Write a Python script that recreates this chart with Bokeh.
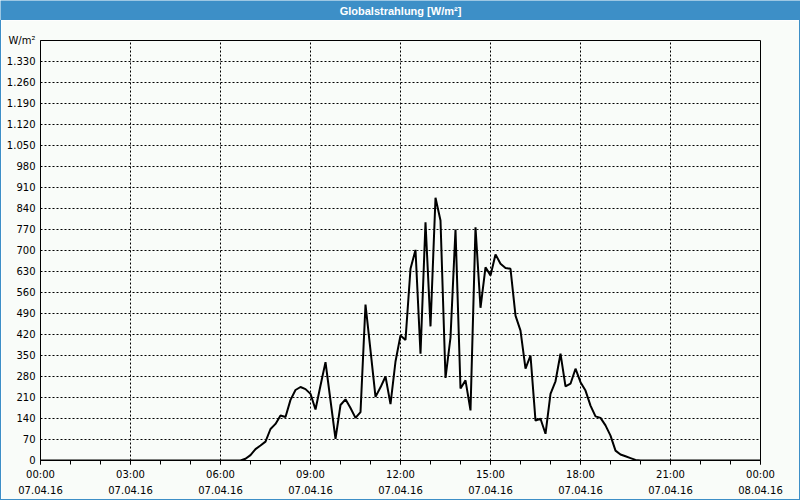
from bokeh.plotting import figure
from bokeh.models import FixedTicker, Range1d, Spacer
from bokeh.layouts import column, row
from bokeh.core.properties import value
from bokeh.embed import file_html
from bokeh.resources import INLINE

# 10-minute values, 07.04.16 00:00 .. 08.04.16 00:00 (145 samples)
hours = [i / 6 for i in range(145)]
zeros_night = [0] * 40  # 00:00 .. 06:30
day_values = [
    0, 6, 18, 38, 50, 63, 105, 122, 150, 145, 202, 235, 245, 238, 222, 170,
    250, 328, 200, 72, 185, 204, 175, 142, 161, 520, 367, 212, 244, 280, 188,
    330, 417, 402, 639, 702, 356, 794, 447, 876, 800, 275, 410, 770, 240, 267,
    167, 777, 509, 644, 617, 687, 656, 642, 639, 483, 433, 306, 350, 133, 139,
    89, 222, 264, 356, 247, 256, 306, 261, 233, 183, 147, 142, 117, 83, 33,
    20, 14, 8, 2,
]
zeros_evening = [0] * (145 - 40 - len(day_values))
irradiance = zeros_night + day_values + zeros_evening

x_ticks = [0, 3, 6, 9, 12, 15, 18, 21, 24]
x_tick_labels = ["00:00\n07.04.16", "03:00\n07.04.16", "06:00\n07.04.16",
                 "09:00\n07.04.16", "12:00\n07.04.16", "15:00\n07.04.16",
                 "18:00\n07.04.16", "21:00\n07.04.16", "00:00\n08.04.16"]
y_ticks = list(range(0, 1401, 70))
title_text = "Globalstrahlung [W/m²]"

BG = "#f9fcf9"
BLUE = "#3d8fc7"
FONT = "DejaVu Sans"

# title bar
t = figure(width=800, height=20, output_backend="svg", toolbar_location=None,
           x_range=Range1d(0, 1), y_range=Range1d(0, 1),
           x_axis_type=None, y_axis_type=None,
           min_border=0, background_fill_color=BLUE, border_fill_color=BLUE)
t.outline_line_color = None
t.text(x=[0.5], y=[0.5], text=[title_text], text_align="center",
       text_baseline="middle", text_color="white",
       text_font=value("Liberation Sans"),
       text_font_size="11px", text_font_style="bold")

# main chart
p = figure(width=798, height=479, output_backend="svg", toolbar_location=None,
           x_range=Range1d(0, 24), y_range=Range1d(0, 1400),
           min_border_left=39, min_border_right=39, min_border_top=20,
           min_border_bottom=39, background_fill_color=BG, border_fill_color=BG)
p.outline_line_color = "black"
p.outline_line_width = 1

p.line(hours, irradiance, line_width=2, line_color="black")

xa = p.xaxis[0]
xa.ticker = FixedTicker(ticks=x_ticks, minor_ticks=list(range(25)))
xa.major_label_overrides = {tk: lb for tk, lb in zip(x_ticks, x_tick_labels)}
xa.major_tick_in = 0
xa.major_tick_out = 4
xa.minor_tick_in = 0
xa.minor_tick_out = 4
xa.major_label_standoff = 4
xa.major_label_text_font = FONT
xa.major_label_text_font_size = "10px"
xa.major_label_text_line_height = 1.5
xa.major_label_text_color = "black"
xa.axis_line_color = "black"

ya = p.yaxis[0]
ya.ticker = FixedTicker(ticks=y_ticks, minor_ticks=[])
ya.major_label_overrides = {v: ("W/m²" if v == 1400 else f"{v:,}".replace(",", "."))
                            for v in y_ticks}
ya.major_tick_in = 0
ya.major_tick_out = 0
ya.major_label_standoff = 5
ya.major_label_text_font = FONT
ya.major_label_text_font_size = "10px"
ya.major_label_text_color = "black"
ya.axis_line_color = "black"

for g in (p.xgrid[0], p.ygrid[0]):
    g.grid_line_color = "black"
    g.grid_line_dash = "2 2"
    g.grid_line_width = 1
p.xgrid[0].ticker = FixedTicker(ticks=x_ticks)
p.ygrid[0].ticker = FixedTicker(ticks=y_ticks)

edge = {"background-color": BLUE}
middle = row(Spacer(width=1, height=479, styles=edge), p,
             Spacer(width=1, height=479, styles=edge), spacing=0)
layout = column(t, middle, Spacer(width=800, height=1, styles=edge), spacing=0)

open("out.html", "w").write(file_html(layout, INLINE))
